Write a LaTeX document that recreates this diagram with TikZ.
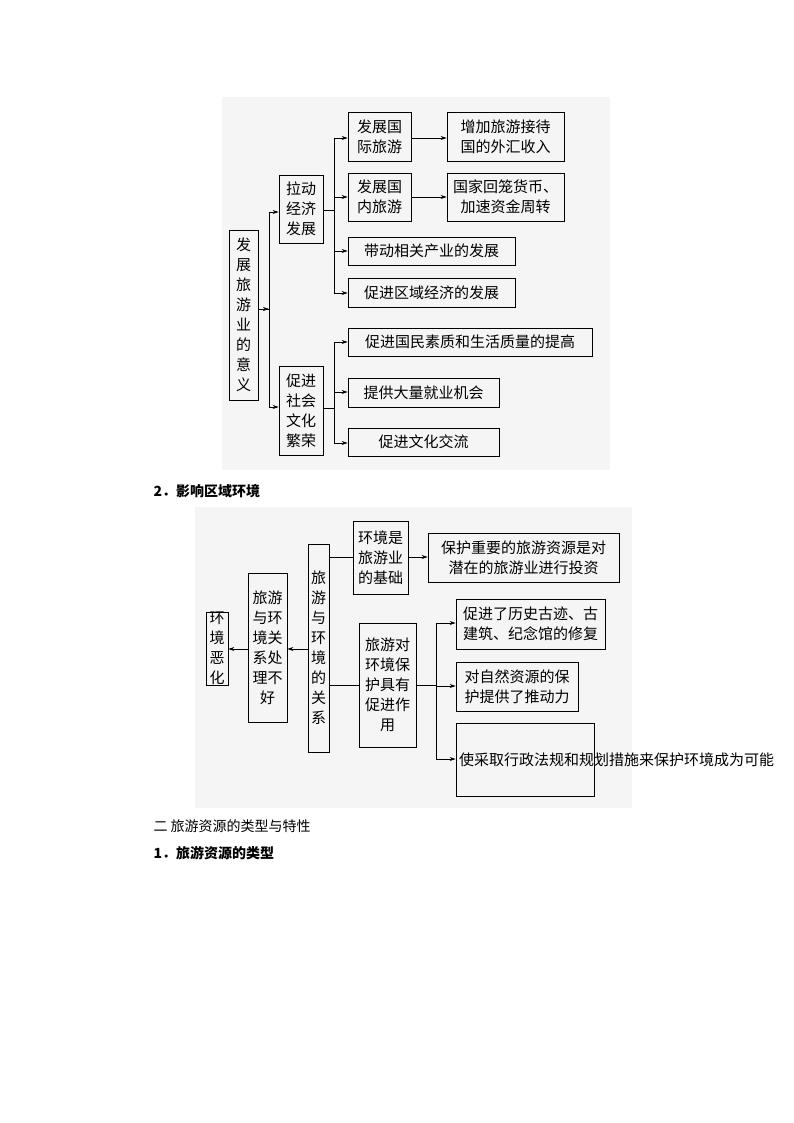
\documentclass[tikz,border=0pt]{standalone}
\usepackage{fontspec}
\setmainfont{Liberation Serif}
\newfontfamily\cjk{Noto Sans CJK SC}
\usetikzlibrary{arrows.meta}
\newcommand{\bx}[6]{\node[bx,minimum width={#4-#2},minimum height={#5-#3}] (#1) at ({(#2+#4)/2},{(#3+#5)/2}) {#6};}
\begin{document}
\begin{tikzpicture}[x=1pt,y=-1pt,
 bx/.style={draw,line width=0.8pt,inner sep=0pt,align=center,font=\cjk\fontsize{15}{20}\selectfont},
 ar/.style={line width=0.7pt,-{Stealth[length=6pt,width=4pt]}},
 ln/.style={line width=0.7pt}]
\useasboundingbox (0,0) rectangle (794,1123);
\fill[black!4] (222,97) rectangle (610,470);
\fill[black!4] (195,507) rectangle (632,808);
% diagram 1
\bx{a}{229}{230}{258}{400}{发\\展\\旅\\游\\业\\的\\意\\义}
\bx{b}{279}{175}{323}{243}{拉动\\经济\\发展}
\bx{c}{279}{366}{323}{455}{促进\\社会\\文化\\繁荣}
\bx{b1}{348}{112}{411}{161}{发展国\\际旅游}
\bx{b1x}{447}{112}{564}{161}{增加旅游接待\\国的外汇收入}
\bx{b2}{348}{173}{411}{221}{发展国\\内旅游}
\bx{b2x}{447}{173}{564}{221}{国家回笼货币、\\加速资金周转}
\bx{b3}{348}{237}{515}{265}{带动相关产业的发展}
\bx{b4}{348}{278}{515}{307}{促进区域经济的发展}
\bx{c1}{348}{328}{592}{356}{促进国民素质和生活质量的提高}
\bx{c2}{348}{378}{499}{407}{提供大量就业机会}
\bx{c3}{348}{428}{499}{456}{促进文化交流}
\coordinate (ja) at (269,309);
\draw[ln] (a.east |- ja) -- (ja);
\draw[ln] (269,212) -- (269,407);
\draw[ar] (269,212) -- (b.west |- 0,212);
\draw[ar] (269,407) -- (c.west |- 0,407);
\draw[ar] (264,309) -- (ja);
\draw[ln] (b.east |- 0,210) -- (334,210);
\draw[ln] (334,138) -- (334,293);
\foreach \n/\y in {b1/138,b2/197,b3/251,b4/293} \draw[ar] (334,\y) -- (\n.west |- 0,\y);
\draw[ln] (c.east |- 0,408) -- (334,408);
\draw[ln] (334,342) -- (334,443);
\foreach \n/\y in {c1/342,c2/392,c3/443} \draw[ar] (334,\y) -- (\n.west |- 0,\y);
\draw[ar] (b1.east |- 0,138) -- (b1x.west |- 0,138);
\draw[ar] (b2.east |- 0,197) -- (b2x.west |- 0,197);
% headings
\node[anchor=west,font=\cjk\bfseries\fontsize{14}{16}\selectfont] (h1) at (150,491) {2．影响区域环境};
\node[anchor=west,font=\cjk\fontsize{14}{16}\selectfont] (h2) at (150,826) {二\ 旅游资源的类型与特性};
\node[anchor=west,font=\cjk\bfseries\fontsize{14}{16}\selectfont] (h3) at (150,853) {1．旅游资源的类型};
% diagram 2
\bx{e}{206}{612}{228}{685}{环\\境\\恶\\化}
\bx{f}{248}{573}{287}{722}{旅游\\与环\\境关\\系处\\理不\\好}
\bx{g}{308}{544}{329}{752}{旅\\游\\与\\环\\境\\的\\关\\系}
\bx{h}{353}{521}{408}{594}{环境是\\旅游业\\的基础}
\bx{hx}{428}{533}{619}{582}{保护重要的旅游资源是对\\潜在的旅游业进行投资}
\bx{k}{359}{623}{416}{747}{旅游对\\环境保\\护具有\\促进作\\用}
\node[bx,minimum width=57,minimum height=124,text width=52,align=left] at (387.5,685) {};
\bx{k1}{456}{599}{605}{649}{促进了历史古迹、古\\建筑、纪念馆的修复}
\bx{k2}{456}{662}{578}{711}{对自然资源的保\\护提供了推动力}
\node[bx,minimum width=138,minimum height=73,text width=132,align=left] (k3) at (525,759.5) {使采取行政法规和规划措施来保护环境成为可能};
\draw[ln] (g.east |- 0,557) -- (h.west |- 0,557);
\draw[ar] (h.east |- 0,557) -- (hx.west |- 0,557);
\draw[ln] (g.east |- 0,685) -- (k.west |- 0,685);
\draw[ln] (k.east |- 0,685) -- (436,685);
\draw[ln] (436,623) -- (436,759);
\foreach \n/\y in {k1/623,k2/686,k3/759} \draw[ar] (436,\y) -- (\n.west |- 0,\y);
\draw[ar] (g.west |- 0,649) -- (f.east |- 0,649);
\draw[ar] (f.west |- 0,649) -- (e.east |- 0,649);
\end{tikzpicture}
\end{document}
